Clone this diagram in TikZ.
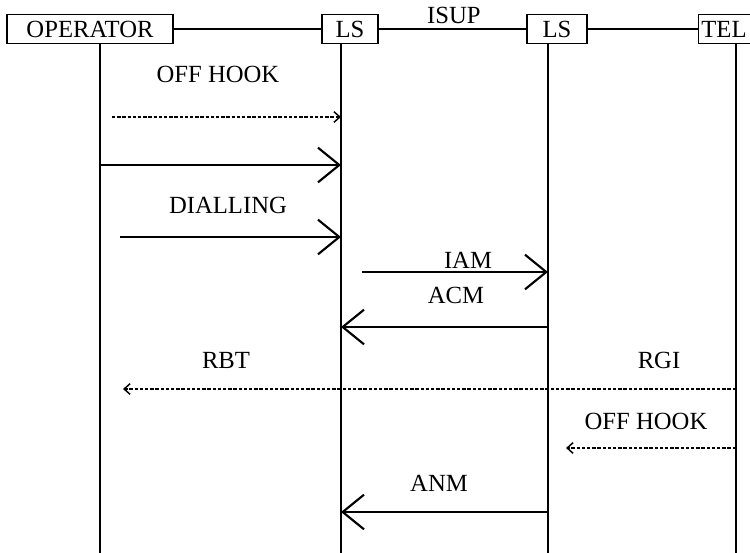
\documentclass[tikz,border=0pt]{standalone}
\usepackage{fontspec}
\setmainfont{Liberation Serif}
\usetikzlibrary{arrows.meta}

\tikzset{
  party/.style={draw, line width=1.1pt, inner xsep=4pt, inner ysep=1pt,
    minimum height=22pt, font=\fontsize{18.5}{20}\selectfont},
  life/.style={line width=2pt},
  link/.style={line width=0.9pt},
  sig/.style={line width=0.8pt,
    -{Straight Barb[length=16pt,width=26pt,line width=1.6pt]}},
  ind/.style={line width=1.1pt, dash pattern=on 2.5pt off 1.4pt,
    -{Straight Barb[length=4.5pt,width=8pt,line width=1.1pt]}},
  lbl/.style={anchor=base, inner sep=0pt, font=\fontsize{18.5}{20}\selectfont},
}

\begin{document}
\begin{tikzpicture}[x=0.75pt,y=-0.75pt]
  \useasboundingbox (0,0) rectangle (750,553);

  % parties
  \node[party, minimum width=124.5pt] (op) at (90,29) {OPERATOR};
  \node[party, minimum width=42pt] (ls1) at (350,29) {LS};
  \node[party, minimum width=45pt] (ls2) at (557,29) {LS};
  \node[party, anchor=west, align=left, text width=50pt, inner xsep=2pt] (tel) at (698,29) {TEL};

  \draw[link] (op) -- (ls1);
  \draw[link] (ls1) -- (ls2) node[lbl, midway, xshift=1pt, yshift=4.5pt] (isup) {ISUP};
  \draw[link] (ls2) -- (tel);

  % lifelines
  \coordinate (opL) at (100,553);
  \coordinate (ls1L) at (341,553);
  \coordinate (ls2L) at (548,553);
  \coordinate (telL) at (736,553);
  \draw[life] (op.south -| opL) -- (opL);
  \draw[life] (ls1.south -| ls1L) -- (ls1L);
  \draw[life] (ls2.south -| ls2L) -- (ls2L);
  \draw[life] (tel.south -| telL) -- (telL);

  % messages
  \node[lbl] (offhook1) at (218,82) {OFF HOOK};
  \draw[ind] (112,117) -- (ls1L |- 0,117);

  \draw[sig] (opL |- 0,165) -- (ls1L |- 0,165);

  \node[lbl] (dial) at (228,213) {DIALLING};
  \draw[sig] (120,237) -- (ls1L |- 0,237);

  \node[lbl] (iam) at (468,268) {IAM};
  \draw[sig] (362,272) -- (ls2L |- 0,272);

  \node[lbl] (acm) at (456,303) {ACM};
  \draw[sig] (ls2L |- 0,327) -- (ls1L |- 0,327);

  \node[lbl] (rbt) at (226,368) {RBT};
  \node[lbl] (rgi) at (659,368) {RGI};
  \draw[ind] (telL |- 0,389) -- (123,389);

  \node[lbl] (offhook2) at (646,429) {OFF HOOK};
  \draw[ind] (telL |- 0,448) -- (566,448);

  \node[lbl] (anm) at (439,491) {ANM};
  \draw[sig] (ls2L |- 0,512) -- (ls1L |- 0,512);
\end{tikzpicture}
\end{document}
